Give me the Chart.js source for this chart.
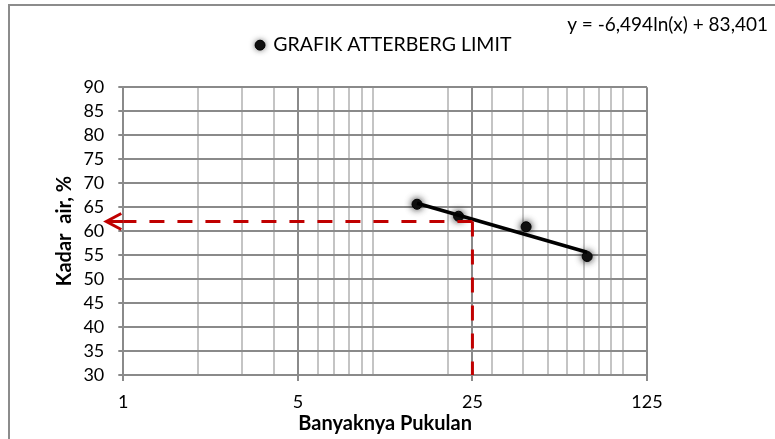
<!DOCTYPE html>
<html><head><meta charset="utf-8">
<script src="https://cdn.jsdelivr.net/npm/chart.js@4.4.1/dist/chart.umd.min.js"></script>
<style>html,body{margin:0;padding:0;background:#fff}#wrap{width:775px;height:439px;position:relative}</style>
</head><body><div id="wrap"><canvas id="c"></canvas></div>
<script>
// ---- data ----
const blowCounts = [15, 22, 41, 72];
const waterContent = [65.6, 63.1, 60.9, 54.7];
const trendBlows = [15, 72];
const trendWater = [65.8, 55.6];
const targetBlows = 25;
const targetWater = 62;
const xTickLabels = [1, 5, 25, 125];
const xMinorGrid = [2, 3, 4, 6, 7, 8, 9, 10, 20, 30, 40, 50, 60, 70, 80, 90, 100];
const yMin = 30, yMax = 90, yStep = 5;
const seriesName = 'GRAFIK ATTERBERG LIMIT';
const equationText = 'y = -6,494ln(x) + 83,401';
const xTitle = 'Banyaknya Pukulan';
const yTitle = 'Kadar  air, %';

// ---- styles ----
const MAJOR_GRID = '#8a8a8a';
const MINOR_GRID = '#c4c4c4';
const RED = '#c00000';
Chart.defaults.font.family = 'Lato';
Chart.defaults.color = '#000';

const xGridValues = [...xTickLabels, ...xMinorGrid].sort((a, b) => a - b);
const pts = blowCounts.map((x, i) => ({x, y: waterContent[i]}));
const trend = trendBlows.map((x, i) => ({x, y: trendWater[i]}));
const guideH = [{x: targetBlows, y: targetWater}, {x: xTickLabels[0], y: targetWater}];
const guideV = [{x: targetBlows, y: targetWater}, {x: targetBlows, y: yMin}];

const framePlugin = {
  id: 'frame',
  beforeDraw(chart) {
    const ctx = chart.ctx;
    ctx.save();
    ctx.fillStyle = '#fff';
    ctx.fillRect(0, 0, chart.width, chart.height);
    ctx.strokeStyle = '#8c8c8c';
    ctx.lineWidth = 2;
    ctx.strokeRect(9, 5, chart.width + 20, chart.height + 20);
    ctx.restore();
  }
};
const glowPlugin = {
  id: 'glow',
  beforeDatasetDraw(chart, args) {
    if (chart.data.datasets[args.index].glow) {
      const ctx = chart.ctx;
      ctx.save();
      ctx.shadowColor = 'rgba(0,0,0,0.85)';
      ctx.shadowBlur = 7;
    }
  },
  afterDatasetDraw(chart, args) {
    if (chart.data.datasets[args.index].glow) chart.ctx.restore();
  },
  beforeDraw(chart) {
    const lg = chart.legend;
    if (!lg || !lg.legendHitBoxes || !lg.legendHitBoxes.length) return;
    const hb = lg.legendHitBoxes[0];
    const ctx = chart.ctx;
    ctx.save();
    ctx.shadowColor = 'rgba(0,0,0,0.85)';
    ctx.shadowBlur = 6;
    ctx.fillStyle = '#111';
    ctx.beginPath();
    ctx.arc(hb.left + 3.5, hb.top + hb.height / 2, 4.5, 0, Math.PI * 2);
    ctx.fill();
    ctx.restore();
  }
};
const arrowPlugin = {
  id: 'arrow',
  afterDatasetsDraw(chart) {
    const xs = chart.scales.x, ys = chart.scales.y;
    const x0 = xs.getPixelForValue(xTickLabels[0]);
    const y0 = ys.getPixelForValue(targetWater);
    const tip = x0 - 17;
    const ctx = chart.ctx;
    ctx.save();
    ctx.strokeStyle = RED;
    ctx.lineWidth = 3;
    ctx.lineCap = 'butt';
    ctx.beginPath();
    ctx.moveTo(tip + 15, y0 - 8);
    ctx.lineTo(tip, y0);
    ctx.lineTo(tip + 15, y0 + 8);
    ctx.moveTo(tip, y0);
    ctx.lineTo(x0, y0);
    ctx.stroke();
    ctx.restore();
  }
};

new Chart(document.getElementById('c'), {
  type: 'scatter',
  data: {
    datasets: [
      {label: 'guideH', data: guideH, type: 'line', showLine: true, borderColor: RED, borderWidth: 3,
       borderDash: [15, 13], pointRadius: 0, order: 0, clip: false},
      {label: 'guideV', data: guideV, type: 'line', showLine: true, borderColor: RED, borderWidth: 3,
       borderDash: [15, 13], pointRadius: 0, order: 0, clip: false},
      {label: seriesName, data: pts, backgroundColor: '#111', borderColor: '#000', borderWidth: 1,
       pointRadius: 5, pointHoverRadius: 5, order: 2, glow: true},
      {label: 'trend', data: trend, type: 'line', showLine: true, borderColor: '#000', borderWidth: 3.5,
       pointRadius: 0, order: 1}
    ]
  },
  options: {
    responsive: true,
    maintainAspectRatio: false,
    animation: false,
    events: [],
    layout: {padding: {left: 0, right: 7, top: 0, bottom: 0}},
    plugins: {
      tooltip: {enabled: false},
      title: {display: true, text: equationText, align: 'end', color: '#000',
        font: {size: 19, lineHeight: 1.1, weight: 'normal'}, padding: {top: 14.5, bottom: 0}},
      legend: {
        display: true, position: 'top', align: 'center',
        labels: {
          filter: (item) => item.text === seriesName,
          usePointStyle: true, pointStyle: 'circle', boxHeight: 7, boxWidth: 7, padding: 0,
          color: '#000', font: {size: 19.5}
        }
      }
    },
    scales: {
      x: {
        type: 'logarithmic', position: 'bottom', min: xTickLabels[0], max: xTickLabels[xTickLabels.length - 1],
        afterBuildTicks: (s) => { s.ticks = xGridValues.map(v => ({value: v})); },
        afterFit: (s) => { s.height = 64; },
        ticks: {autoSkip: false, maxRotation: 0, padding: 10, font: {size: 18}, color: '#000',
          callback: (v) => xTickLabels.includes(v) ? String(v) : ''},
        grid: {
          color: (c) => xTickLabels.includes(c.tick && c.tick.value) ? MAJOR_GRID : MINOR_GRID,
          tickColor: (c) => xTickLabels.includes(c.tick && c.tick.value) ? MAJOR_GRID : 'rgba(0,0,0,0)',
          lineWidth: 2, tickLength: 6
        },
        border: {display: true, color: MAJOR_GRID, width: 2},
        title: {display: true, text: xTitle, font: {size: 20, weight: 'bold'}, color: '#000',
          padding: {top: 0, bottom: 3}}
      },
      xTop: {
        type: 'linear', position: 'top', display: true,
        grid: {display: false, drawTicks: false}, ticks: {display: false}, border: {display: false},
        afterFit: (s) => { s.height = 22.3; }
      },
      y: {
        type: 'linear', position: 'left', min: yMin, max: yMax,
        afterFit: (s) => { s.width = 123.3; },
        ticks: {stepSize: yStep, autoSkip: false, padding: 14, font: {size: 18, lineHeight: 1}, color: '#000'},
        grid: {color: MAJOR_GRID, lineWidth: 2, tickLength: 5, tickColor: MAJOR_GRID},
        border: {display: true, color: MAJOR_GRID, width: 2},
        title: {display: true, text: yTitle, font: {size: 20, weight: 'bold'}, color: '#000',
          padding: {top: 53, bottom: 0}}
      },
      yR: {
        type: 'linear', position: 'right', display: true,
        grid: {display: false, drawTicks: false}, ticks: {display: false}, border: {display: false},
        afterFit: (s) => { s.width = 121; }
      }
    }
  },
  plugins: [framePlugin, glowPlugin, arrowPlugin]
});
</script>
</body></html>
